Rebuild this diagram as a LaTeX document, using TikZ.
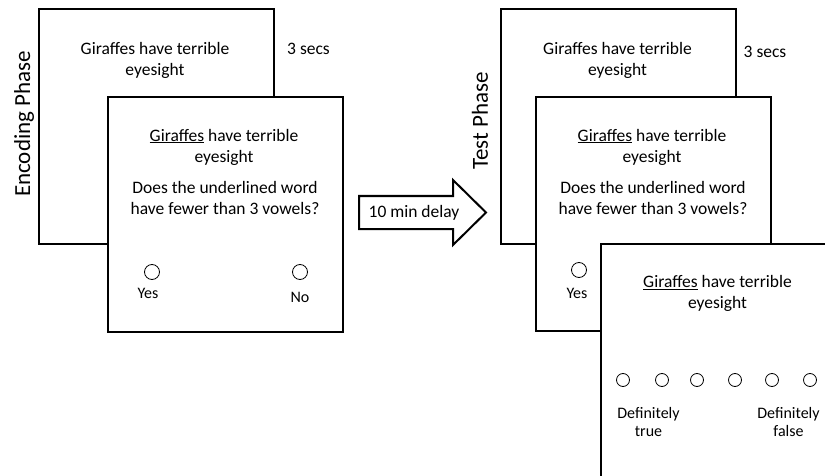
\documentclass[tikz,border=0pt]{standalone}
\usepackage{fontspec}
\setmainfont{Carlito}

\begin{document}
\begin{tikzpicture}[x=1pt,y=-1pt,
  screen/.style={draw,fill=white,line width=2.2pt},
  txt/.style={align=center,font=\fontsize{17.5}{21}\selectfont,inner sep=0pt},
  small/.style={align=center,font=\fontsize{16}{18}\selectfont,inner sep=0pt},
  phase/.style={rotate=90,font=\fontsize{23}{26}\selectfont,inner sep=0pt},
  resp/.style={circle,draw,line width=0.8pt,inner sep=0pt}]
\useasboundingbox (0,0) rectangle (825,476);
\clip (0,0) rectangle (825,476);
% encoding phase
\node[phase] (encphase) at (24,124) {Encoding Phase};
\draw[screen] (39,9) rectangle (274,244);
\node[txt] (enctitle) at (155,60) {Giraffes have terrible\\eyesight};
\node[txt] (encsecs) at (308.5,49) {3 secs};
\draw[screen] (108,97) rectangle (343,332);
\node[txt] (encword) at (224,147) {\underline{Giraffes} have terrible\\eyesight};
\node[txt] (encquest) at (225,198) {Does the underlined word\\have fewer than 3 vowels?};
\node[resp,minimum size=15pt] (encyes) at (152,272) {};
\node[resp,minimum size=15pt] (encno) at (300,272) {};
\node[small] (encyeslab) at (148,293) {Yes};
\node[small] (encnolab) at (300,297) {No};
% delay arrow
\draw[line width=2pt,line join=miter] (359,196) -- (453,196) -- (453,180) -- (486,212.5)
  -- (453,245) -- (453,229) -- (359,229) -- cycle;
\node[txt] (delay) at (414,212.5) {10 min delay};
% test phase
\node[phase] (testphase) at (480,121) {Test Phase};
\draw[screen] (501,9) rectangle (736,244);
\node[txt] (testtitle) at (617.5,60) {Giraffes have terrible\\eyesight};
\node[txt] (testsecs) at (765,52) {3 secs};
\draw[screen] (536,97) rectangle (771,331);
\node[txt] (testword) at (652,147) {\underline{Giraffes} have terrible\\eyesight};
\node[txt] (testquest) at (653,198) {Does the underlined word\\have fewer than 3 vowels?};
\node[resp,minimum size=15pt] (testyes) at (579,270) {};
\node[small] (testyeslab) at (577,293) {Yes};
\draw[screen] (601,244) rectangle (840,490);
\node[txt] (rateword) at (717.5,293.5) {\underline{Giraffes} have terrible\\eyesight};
\foreach \x/\n in {623/1, 662/2, 697/3, 735/4, 772/5, 810/6} % rating scale
  \node[resp,minimum size=13pt] (rate\n) at (\x,380) {};
\node[small] (ratetrue) at (648.5,422) {Definitely\\true};
\node[small] (ratefalse) at (788.5,422) {Definitely\\false};
\end{tikzpicture}
\end{document}
